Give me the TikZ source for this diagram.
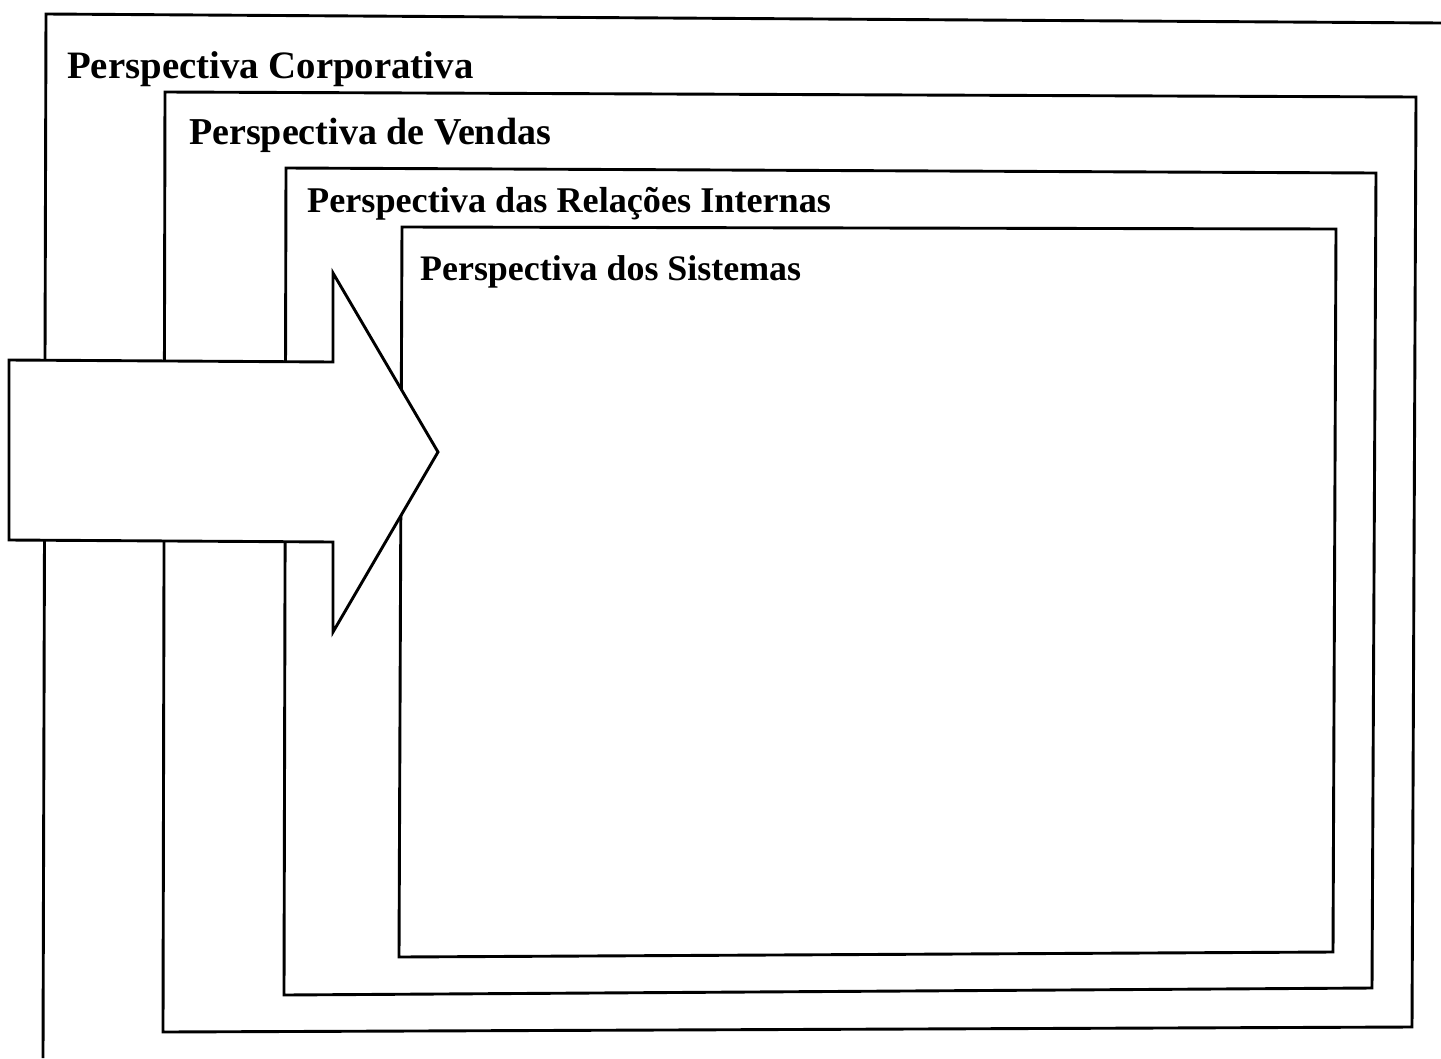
\documentclass[tikz,border=0pt]{standalone}
\usepackage{fontspec}
\setmainfont{Liberation Serif}
\begin{document}
\begin{tikzpicture}[x=1pt,y=-1pt,
  frame/.style={draw=black,line width=2.9pt,line join=miter},
  lbl/.style={anchor=base west,inner sep=0pt}]
\useasboundingbox[fill=white] (0,0) rectangle (1441,1058);
% outer box (cropped)
\coordinate (o1) at (1441,23);
\coordinate (o2) at (46,14);
\coordinate (o3) at (43,1058);
\draw[frame] (o1) -- (o2) -- (o3);
% Vendas
\coordinate (v1) at (165,92);
\coordinate (v2) at (1416,97);
\coordinate (v3) at (1412,1027);
\coordinate (v4) at (163,1032);
\draw[frame] (v1) -- (v2) -- (v3) -- (v4) -- cycle;
% Relacoes Internas
\coordinate (r1) at (286,168);
\coordinate (r2) at (1376,173);
\coordinate (r3) at (1372,988);
\coordinate (r4) at (284,995);
\draw[frame] (r1) -- (r2) -- (r3) -- (r4) -- cycle;
% Sistemas
\coordinate (s1) at (402,227);
\coordinate (s2) at (1336,229);
\coordinate (s3) at (1333,952);
\coordinate (s4) at (399,957);
\draw[frame] (s1) -- (s2) -- (s3) -- (s4) -- cycle;
% arrow
\coordinate (a1) at (9,360);
\coordinate (a2) at (333,362);
\coordinate (a3) at (333,273);
\coordinate (a4) at (438,452);
\coordinate (a5) at (333,632);
\coordinate (a6) at (333,542);
\coordinate (a7) at (9,540);
\draw[frame,fill=white] (a1) -- (a2) -- (a3) -- (a4) -- (a5) -- (a6) -- (a7) -- cycle;
% labels
\node[lbl,font=\bfseries\fontsize{38.8}{40}\selectfont] (t1) at (67,78) {Perspectiva Corporativa};
\node[lbl,font=\bfseries\fontsize{38}{40}\selectfont] (t2) at (189,144) {Perspectiva de Vendas};
\node[lbl,font=\bfseries\fontsize{36.2}{40}\selectfont] (t3) at (307,212) {Perspectiva das Relações Internas};
\node[lbl,font=\bfseries\fontsize{35.9}{40}\selectfont] (t4) at (420,280) {Perspectiva dos Sistemas};
\end{tikzpicture}
\end{document}
